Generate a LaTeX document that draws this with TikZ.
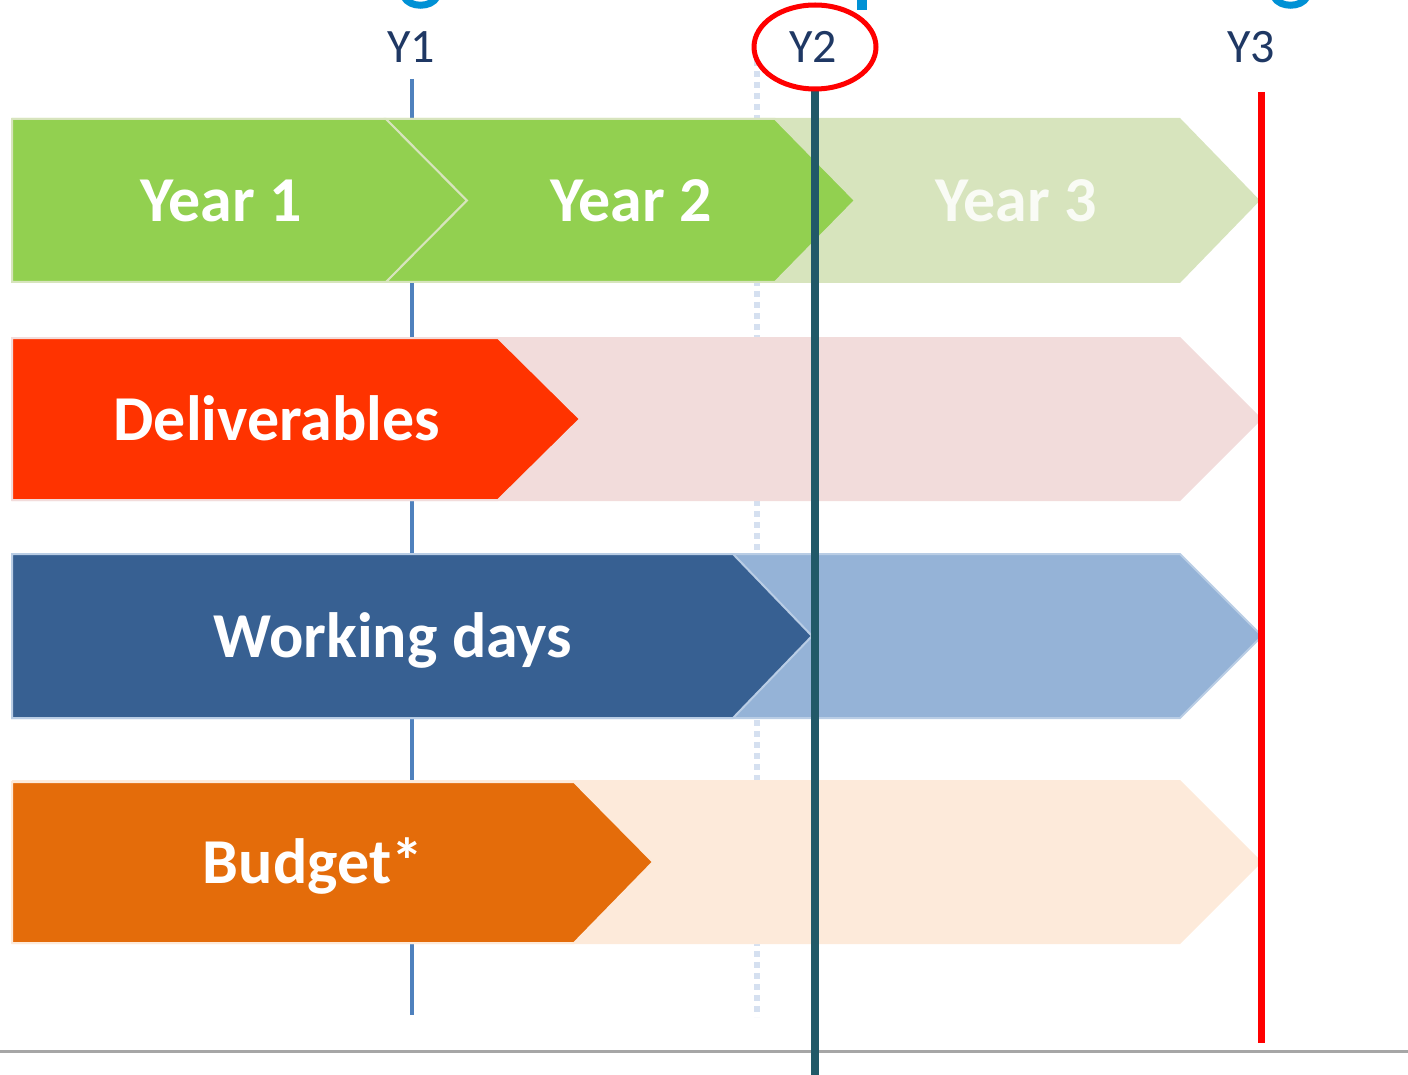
\documentclass[tikz,border=0pt]{standalone}
\usepackage{fontspec}
\setmainfont{Carlito}
\usetikzlibrary{calc}

\definecolor{navy}{HTML}{1F3864}
\definecolor{titleblue}{HTML}{0091D5}
\definecolor{lgreen}{HTML}{D7E4BD}
\definecolor{dgreen}{HTML}{92D050}
\definecolor{lred}{HTML}{F2DCDB}
\definecolor{dred}{HTML}{FF3300}
\definecolor{lblue}{HTML}{95B3D7}
\definecolor{eblue}{HTML}{B9CDE5}
\definecolor{dblue}{HTML}{376092}
\definecolor{lorange}{HTML}{FDEADA}
\definecolor{dorange}{HTML}{E46C0A}
\definecolor{yblue}{HTML}{4F81BD}
\definecolor{dotblue}{HTML}{D5E0F0}
\definecolor{teal}{HTML}{215968}

\begin{document}
\begin{tikzpicture}[x=0.5pt,y=-0.5pt,
		band/.style={anchor=base,font=\bfseries\fontsize{32}{32}\selectfont,text=white},
		ticklabel/.style={anchor=base,font=\fontsize{24}{24}\selectfont,text=navy},
		yearline/.style={draw=yblue,line width=2pt},
		dotline/.style={draw=dotblue,line width=3pt,dash pattern=on 3pt off 2.5pt},
		nowline/.style={draw=teal,line width=4pt},
		endline/.style={draw=red,line width=3.5pt},
		fragment/.style={draw=titleblue,line width=3.5pt}]
	\useasboundingbox (0,0) rectangle (1408,1075);
	%
	% cut-off title above
	\draw[fragment] (404,-3) .. controls (410,8) and (431,8) .. (437,-3);
	\fill[titleblue] (857,0) rectangle (867,10);
	\draw[fragment] (1274,-3) .. controls (1280,8) and (1301,8) .. (1307,-3);
	%
	% year ticks
	\node[ticklabel] (l1) at (411,63) {Y1};
	\node[ticklabel] (l2) at (813,63) {Y2};
	\node[ticklabel] (l3) at (1251,63) {Y3};
	\coordinate (a1) at (412,79);
	\coordinate (a2) at (412,1015);
	\coordinate (b1) at (757,60);
	\coordinate (b2) at (757,1017);
	\draw[yearline] (a1) -- (a2);
	\draw[dotline] (b1) -- (b2);
	%
	% years
	\fill[lgreen] (12,118) -- (1180,118) -- (1260,200.5) -- (1180,283) -- (12,283) -- cycle;
	\filldraw[fill=dgreen,draw=lgreen,line width=1pt] (12,119) -- (386,119) -- (467,200.5) -- (386,282) -- (12,282) -- cycle;
	\filldraw[fill=dgreen,draw=lgreen,line width=1pt] (386,119) -- (775,119) -- (855,200.5) -- (775,282) -- (386,282) -- (467,200.5) -- cycle;
	\node[band] (t1) at (221,222) {Year 1};
	\node[band] (t2) at (631,222) {Year 2};
	\node[band,text=white!85!lgreen] (t3) at (1016,222) {Year 3};
	%
	% deliverables
	\fill[lred] (12,337) -- (1180,337) -- (1262,419) -- (1180,501) -- (12,501) -- cycle;
	\filldraw[fill=dred,draw=lred,line width=1pt] (12,338) -- (498,338) -- (580,419) -- (498,500) -- (12,500) -- cycle;
	\node[band] (del) at (277,440) {Deliverables};
	%
	% working days
	\filldraw[fill=lblue,draw=eblue,line width=1pt] (12,554) -- (1180,554) -- (1262,636) -- (1180,718) -- (12,718) -- cycle;
	\filldraw[fill=dblue,draw=eblue,line width=1pt] (12,554) -- (733,554) -- (812,636) -- (733,718) -- (12,718) -- cycle;
	\node[band] (wd) at (393,657) {Working days};
	%
	% budget
	\fill[lorange] (12,780) -- (1180,780) -- (1262,862) -- (1180,944) -- (12,944) -- cycle;
	\filldraw[fill=dorange,draw=lorange,line width=1pt] (12,782) -- (574,782) -- (653,862) -- (574,943) -- (12,943) -- cycle;
	\node[band] (bud) at (313,883) {Budget*};
	%
	% base line, today and end
	\coordinate (g1) at (0,1051);
	\coordinate (g2) at (1408,1051);
	\draw[draw=black!35,line width=1.5pt] (g1) -- (g2);
	\coordinate (c1) at (815,88);
	\coordinate (c2) at (815,1075);
	\draw[nowline] (c1) -- (c2);
	\coordinate (d1) at (1261,92);
	\coordinate (d2) at (1261,1043);
	\draw[endline] (d1) -- (d2);
	\draw[red,line width=2.5pt] ($(l2.base)+(2,-16)$) ellipse [x radius=61,y radius=42];
\end{tikzpicture}
\end{document}
